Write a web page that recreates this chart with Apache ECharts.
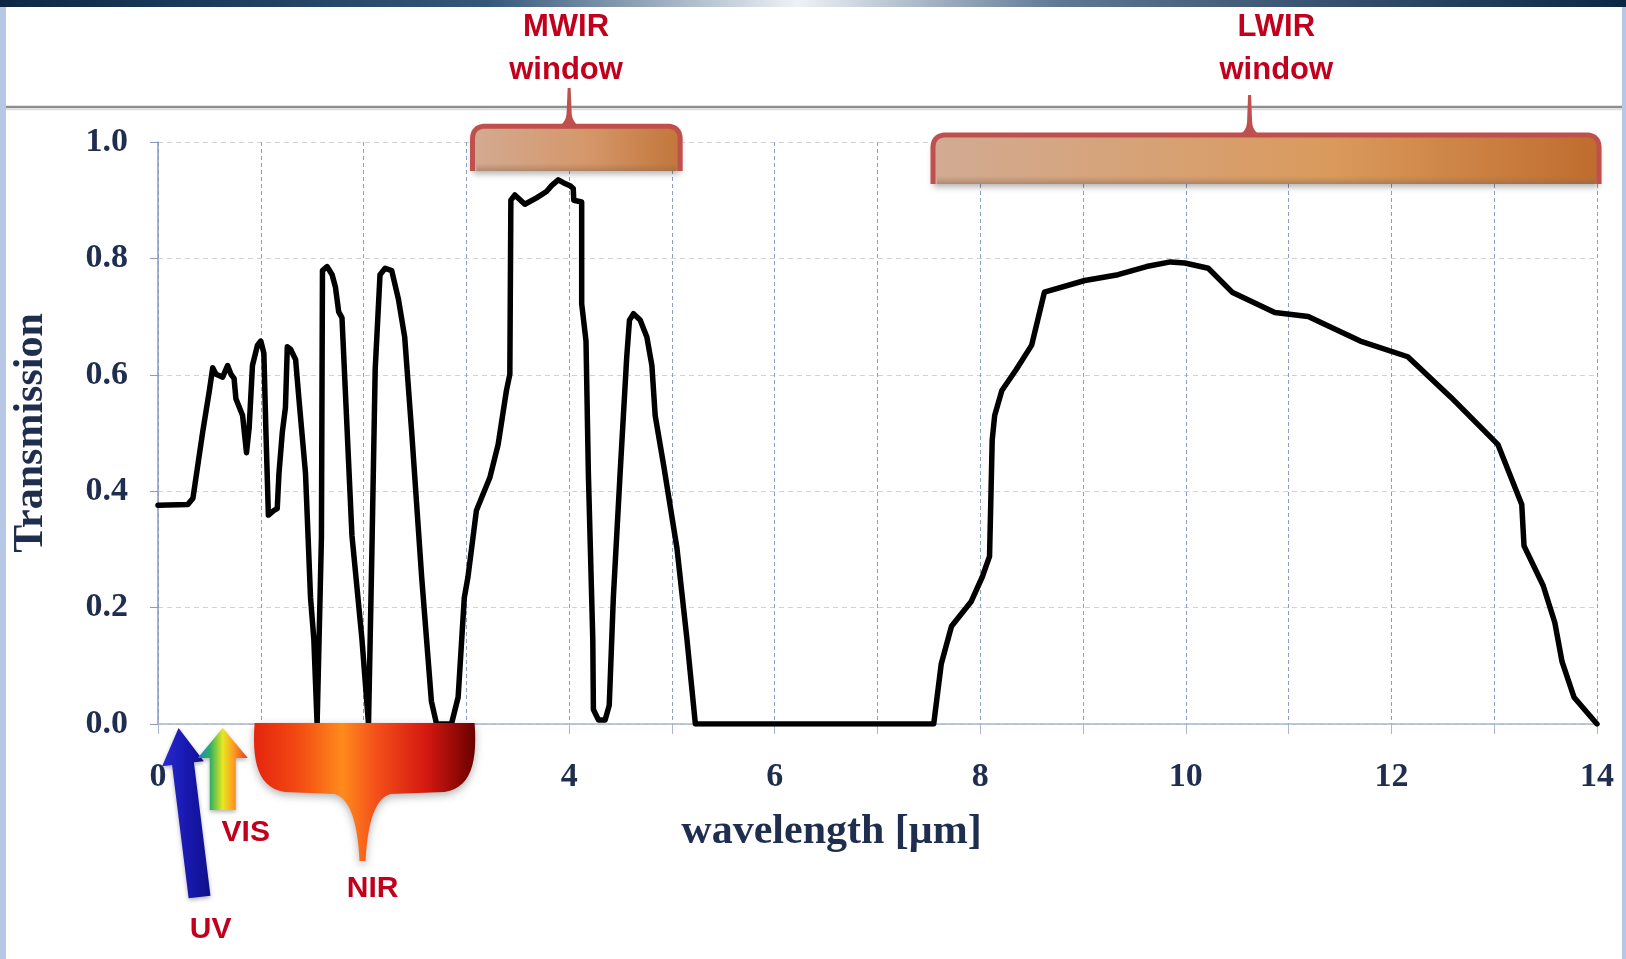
<!DOCTYPE html>
<html>
<head>
<meta charset="utf-8">
<script src="https://cdn.jsdelivr.net/npm/echarts@6/dist/echarts.min.js"></script>
<style>
html,body{margin:0;padding:0;background:#ffffff;}
#chart{width:1626px;height:959px;}
</style>
</head>
<body>
<div id="chart"></div>
<script>
// ---------- data ----------
const wavelength = [
  0, 0.29, 0.34, 0.435, 0.50, 0.532, 0.565, 0.629, 0.677, 0.71, 0.74, 0.758, 0.823, 0.861, 0.887, 0.919, 0.968, 1.0, 1.03, 1.05,
  1.074, 1.129, 1.16, 1.177, 1.21, 1.24, 1.258, 1.29, 1.339, 1.371, 1.435, 1.484, 1.516, 1.548, 1.59, 1.60, 1.645, 1.694, 1.726, 1.758,
  1.79, 1.887, 1.984, 2.048, 2.08, 2.113, 2.16, 2.21, 2.274, 2.339, 2.40, 2.468, 2.565, 2.66, 2.71, 2.855, 2.92, 2.98, 3.016, 3.098,
  3.146, 3.228, 3.309, 3.39, 3.423, 3.433, 3.472, 3.569, 3.683, 3.78, 3.829, 3.894, 3.943, 4.008, 4.04, 4.045, 4.122, 4.122, 4.164, 4.187,
  4.23, 4.236, 4.285, 4.35, 4.39, 4.43, 4.496, 4.56, 4.587, 4.626, 4.691, 4.756, 4.805, 4.837, 4.919, 5.049, 5.146, 5.228, 7.547, 7.62,
  7.72, 7.91, 8.02, 8.09, 8.116, 8.14, 8.21, 8.35, 8.5, 8.624, 9.017, 9.34, 9.617, 9.85, 9.99, 10.218, 10.45, 10.865, 11.19, 11.697,
  12.159, 12.575, 13.037, 13.268, 13.29, 13.476, 13.59, 13.66, 13.776, 14.0
];
const transmission = [
  0.376, 0.377, 0.388, 0.502, 0.573, 0.612, 0.601, 0.596, 0.616, 0.601, 0.594, 0.559, 0.530, 0.466, 0.509, 0.616, 0.651, 0.658, 0.637, 0.502,
  0.359, 0.367, 0.370, 0.431, 0.502, 0.544, 0.648, 0.644, 0.626, 0.559, 0.431, 0.217, 0.146, 0.0, 0.32, 0.779, 0.786, 0.772, 0.751, 0.708,
  0.698, 0.324, 0.146, 0.0, 0.288, 0.609, 0.772, 0.783, 0.779, 0.730, 0.665, 0.502, 0.253, 0.039, 0.0, 0.0, 0.046, 0.217, 0.253, 0.367,
  0.388, 0.423, 0.480, 0.573, 0.601, 0.900, 0.909, 0.893, 0.904, 0.915, 0.925, 0.935, 0.930, 0.925, 0.920, 0.900, 0.897, 0.722, 0.658, 0.431,
  0.146, 0.025, 0.007, 0.007, 0.032, 0.217, 0.431, 0.630, 0.694, 0.705, 0.694, 0.665, 0.616, 0.530, 0.445, 0.302, 0.146, 0.0, 0.0, 0.103,
  0.168, 0.210, 0.253, 0.288, 0.488, 0.530, 0.573, 0.609, 0.651, 0.742, 0.762, 0.772, 0.786, 0.794, 0.792, 0.783, 0.742, 0.707, 0.700, 0.658,
  0.631, 0.562, 0.480, 0.377, 0.306, 0.238, 0.174, 0.107, 0.046, 0.0
];
const xLabelValues = [0, 4, 6, 8, 10, 12, 14];
const yLabelValues = [0, 0.2, 0.4, 0.6, 0.8, 1.0];

// spectral band annotations (in wavelength units)
const bandNames = ['MWIR', 'LWIR'];
const bandFrom = [3.06, 7.54];
const bandTo = [5.08, 14.02];
const bandTop = [1.027, 1.012];
const bandBottom = [0.950, 0.928];
const bandStem = [4.0, 10.62];
const bandTextAt = [3.97, 10.88];
const nirRange = [0.94, 3.08];
const nirTip = 1.99;
const uvAt = 0.2;
const visAt = 0.63;

// ---------- chart ----------
const chart = echarts.init(document.getElementById('chart'), null, {renderer: 'canvas'});
const navy = '#1f2d4e';
const serif = '"Liberation Serif", "Times New Roman", serif';
const sans = '"Liberation Sans", Arial, sans-serif';

const option = {
  animation: false,
  backgroundColor: '#ffffff',
  grid: {left: 158, right: 29, top: 142, bottom: 235, containLabel: false, outerBoundsMode: 'none'},
  xAxis: {
    type: 'value', min: 0, max: 14, interval: 1,
    name: 'wavelength [\u03bcm]', nameLocation: 'middle', nameGap: 87,
    nameTextStyle: {fontFamily: serif, fontWeight: 'bold', fontSize: 42, color: navy, padding: [0, 92, 0, 0]},
    axisLine: {show: true, lineStyle: {color: '#a8b6d4', width: 1.5}},
    axisTick: {show: true, length: 10, lineStyle: {color: '#a8b6d4'}},
    axisLabel: {
      margin: 36, fontFamily: serif, fontWeight: 'bold', fontSize: 34, color: navy,
      showMinLabel: true, showMaxLabel: true, hideOverlap: false,
      formatter: v => xLabelValues.indexOf(v) >= 0 ? String(v) : ''
    },
    splitLine: {show: true, lineStyle: {color: '#8b9ec6', type: [4, 3], width: 1}}
  },
  yAxis: {
    type: 'value', min: 0, max: 1, interval: 0.2,
    name: 'Transmission', nameLocation: 'middle', nameGap: 106, nameRotate: 90,
    nameTextStyle: {fontFamily: serif, fontWeight: 'bold', fontSize: 42, color: navy},
    axisLine: {show: true, lineStyle: {color: '#8c9bbb', width: 1.5}},
    axisTick: {show: true, length: 8, lineStyle: {color: '#8c9bbb'}},
    axisLabel: {
      margin: 30, fontFamily: serif, fontWeight: 'bold', fontSize: 34, color: navy,
      formatter: v => yLabelValues.some(t => Math.abs(t - v) < 1e-9) ? v.toFixed(1) : ''
    },
    splitLine: {show: true, lineStyle: {color: '#d2d2d2', type: [5, 4], width: 1.2}}
  },
  series: [{
    type: 'line',
    data: wavelength.map((x, i) => [x, transmission[i]]),
    showSymbol: false, symbol: 'none', smooth: false,
    lineStyle: {color: '#000000', width: 5.5, join: 'round', cap: 'round'},
    z: 5
  }]
};
chart.setOption(option);

// ---------- helpers ----------
function px(x, y) { return chart.convertToPixel({gridIndex: 0}, [x, y]); }
// sample a path made of M/L/Q/C segments into a point list
function samplePath(segs) {
  const pts = [];
  let cx = 0, cy = 0;
  const N = 14;
  segs.forEach(s => {
    const k = s[0];
    if (k === 'M' || k === 'L') { cx = s[1]; cy = s[2]; pts.push([cx, cy]); }
    else if (k === 'Q') {
      const [, qx, qy, x, y] = s;
      for (let i = 1; i <= N; i++) {
        const t = i / N, u = 1 - t;
        pts.push([u * u * cx + 2 * u * t * qx + t * t * x, u * u * cy + 2 * u * t * qy + t * t * y]);
      }
      cx = x; cy = y;
    } else if (k === 'C') {
      const [, ax, ay, bx, by, x, y] = s;
      for (let i = 1; i <= N; i++) {
        const t = i / N, u = 1 - t;
        pts.push([u * u * u * cx + 3 * u * u * t * ax + 3 * u * t * t * bx + t * t * t * x,
                  u * u * u * cy + 3 * u * u * t * ay + 3 * u * t * t * by + t * t * t * y]);
      }
      cx = x; cy = y;
    }
  });
  return pts;
}
function lin(stops, vertical) {
  return {type: 'linear', x: 0, y: 0, x2: vertical ? 0 : 1, y2: vertical ? 1 : 0,
    colorStops: stops.map(s => ({offset: s[0], color: s[1]}))};
}

const W = 1626, H = 959;
const red = '#c0504d';
const textRed = '#c0001c';
const els = [];

// frame
els.push({type: 'rect', shape: {x: 0, y: 0, width: W, height: 7}, style: {fill: lin([
  [0, '#0b2744'], [0.3, '#35577a'], [0.49, '#eef2f6'], [0.65, '#5f7894'], [1, '#0b2744']])}, z: 50});
els.push({type: 'rect', shape: {x: 0, y: 7, width: 6, height: H - 7}, style: {fill: '#b6c8e6'}, z: 50});
els.push({type: 'rect', shape: {x: W - 4, y: 7, width: 4, height: H - 7}, style: {fill: '#b6c8e6'}, z: 50});
els.push({type: 'line', shape: {x1: 6, y1: 107, x2: W - 4, y2: 107}, style: {stroke: '#8e8e8e', lineWidth: 2.5}, z: 50});
els.push({type: 'line', shape: {x1: 6, y1: 109.5, x2: W - 4, y2: 109.5}, style: {stroke: '#dcdcdc', lineWidth: 1.5}, z: 50});

// band brackets
const stemTops = [88, 95];
const gradients = [
  [[0, '#d3aa92'], [0.55, '#d5976a'], [1, '#c2763a']],
  [[0, '#d2ab93'], [0.6, '#da9a5c'], [1, '#bf6c2e']]
];
bandNames.forEach((name, i) => {
  const [l, t] = px(bandFrom[i], bandTop[i]);
  const [r, b] = px(bandTo[i], bandBottom[i]);
  const [sx] = px(bandStem[i], 0);
  const [tx] = px(bandTextAt[i], 0);
  const rr = 13;
  els.push({type: 'rect', shape: {x: l, y: t, width: r - l, height: b - t, r: [rr, rr, 3, 3]},
    style: {fill: lin(gradients[i]), shadowBlur: 6, shadowColor: 'rgba(0,0,0,0.3)', shadowOffsetY: 3}, z: 60});
  els.push({type: 'rect', shape: {x: l + 4, y: b - 8, width: r - l - 8, height: 8},
    style: {fill: lin([[0, 'rgba(150,110,80,0)'], [1, 'rgba(130,100,80,0.45)']], true)}, z: 61});
  els.push({type: 'polyline', shape: {points: samplePath([
    ['M', l, b], ['L', l, t + rr], ['Q', l, t, l + rr, t], ['L', r - rr, t], ['Q', r, t, r, t + rr], ['L', r, b]])},
    style: {fill: null, stroke: red, lineWidth: 5, lineJoin: 'round'}, z: 62});
  els.push({type: 'polygon', shape: {points: samplePath([
    ['M', sx - 16, t + 2], ['Q', sx - 3, t - 1, sx - 2.5, t - 14], ['L', sx - 1.5, stemTops[i]], ['L', sx + 1.5, stemTops[i]],
    ['L', sx + 2.5, t - 14], ['Q', sx + 3, t - 1, sx + 16, t + 2]])},
    style: {fill: red}, z: 63});
  els.push({type: 'text', style: {text: name, x: tx, y: 27, align: 'center', verticalAlign: 'middle', fill: textRed, font: 'bold 31px ' + sans}, z: 70});
  els.push({type: 'text', style: {text: 'window', x: tx, y: 70, align: 'center', verticalAlign: 'middle', fill: textRed, font: 'bold 31px ' + sans}, z: 70});
});

// NIR funnel
(function () {
  const [L, T0] = px(nirRange[0], 0);
  const [R] = px(nirRange[1], 0);
  const [C] = px(nirTip, 0);
  const T = T0 - 1, B = T0 + 70, tip = T0 + 137;
  const pts = samplePath([
    ['M', L, T], ['L', R, T], ['C', R + 3, T + 40, R - 4, B - 6, R - 30, B - 2], ['L', C + 28, B],
    ['Q', C + 6, B + 6, C + 3, tip], ['L', C - 3, tip], ['Q', C - 6, B + 6, C - 28, B], ['L', L + 30, B - 2],
    ['C', L + 4, B - 6, L - 3, T + 40, L, T]]);
  els.push({type: 'polygon', shape: {points: pts}, style: {fill: lin([
    [0, '#e5240e'], [0.2, '#f24a12'], [0.4, '#ff8a1c'], [0.55, '#f4501a'], [0.78, '#d41810'], [1, '#6a0000']]),
    shadowBlur: 8, shadowColor: 'rgba(0,0,0,0.3)', shadowOffsetY: 3}, z: 60});
  els.push({type: 'text', style: {text: 'NIR', x: C + 10, y: 889, align: 'center', verticalAlign: 'middle', fill: textRed, font: 'bold 30px ' + sans}, z: 70});
})();

// arrows
function arrow(tip, tail, shaftHalf, headHalf, headLen) {
  const dx = tip[0] - tail[0], dy = tip[1] - tail[1];
  const len = Math.hypot(dx, dy);
  const ux = dx / len, uy = dy / len, nx = -uy, ny = ux;
  const hx = tip[0] - ux * headLen, hy = tip[1] - uy * headLen;
  return [
    [tail[0] + nx * shaftHalf, tail[1] + ny * shaftHalf],
    [hx + nx * shaftHalf, hy + ny * shaftHalf],
    [hx + nx * headHalf, hy + ny * headHalf],
    [tip[0], tip[1]],
    [hx - nx * headHalf, hy - ny * headHalf],
    [hx - nx * shaftHalf, hy - ny * shaftHalf],
    [tail[0] - nx * shaftHalf, tail[1] - ny * shaftHalf]
  ];
}
(function () {
  const [ux, uy] = px(uvAt, 0);
  const uvTip = [ux, uy + 4], uvTail = [ux + 21, uy + 173];
  els.push({type: 'polygon', shape: {points: arrow(uvTip, uvTail, 11, 21, 36)},
    style: {fill: lin([[0, '#2a2ad2'], [0.5, '#1818b0'], [1, '#10108a']]),
      shadowBlur: 4, shadowColor: 'rgba(0,0,0,0.3)', shadowOffsetY: 2}, z: 65});
  els.push({type: 'text', style: {text: 'UV', x: ux + 32, y: 930, align: 'center', verticalAlign: 'middle', fill: textRed, font: 'bold 30px ' + sans}, z: 70});

  const [vx, vy] = px(visAt, 0);
  const visTip = [vx, vy + 4], visTail = [vx, vy + 86];
  els.push({type: 'polygon', shape: {points: arrow(visTip, visTail, 13, 25, 30)},
    style: {fill: lin([[0, '#1f7fd0'], [0.25, '#30b060'], [0.5, '#e8e820'], [0.72, '#ff9a20'], [1, '#e23a28']]),
      shadowBlur: 4, shadowColor: 'rgba(0,0,0,0.3)', shadowOffsetY: 2}, z: 65});
  els.push({type: 'text', style: {text: 'VIS', x: vx + 23, y: 833, align: 'center', verticalAlign: 'middle', fill: textRed, font: 'bold 30px ' + sans}, z: 70});
})();

chart.setOption({graphic: {elements: els}});
</script>
</body>
</html>
